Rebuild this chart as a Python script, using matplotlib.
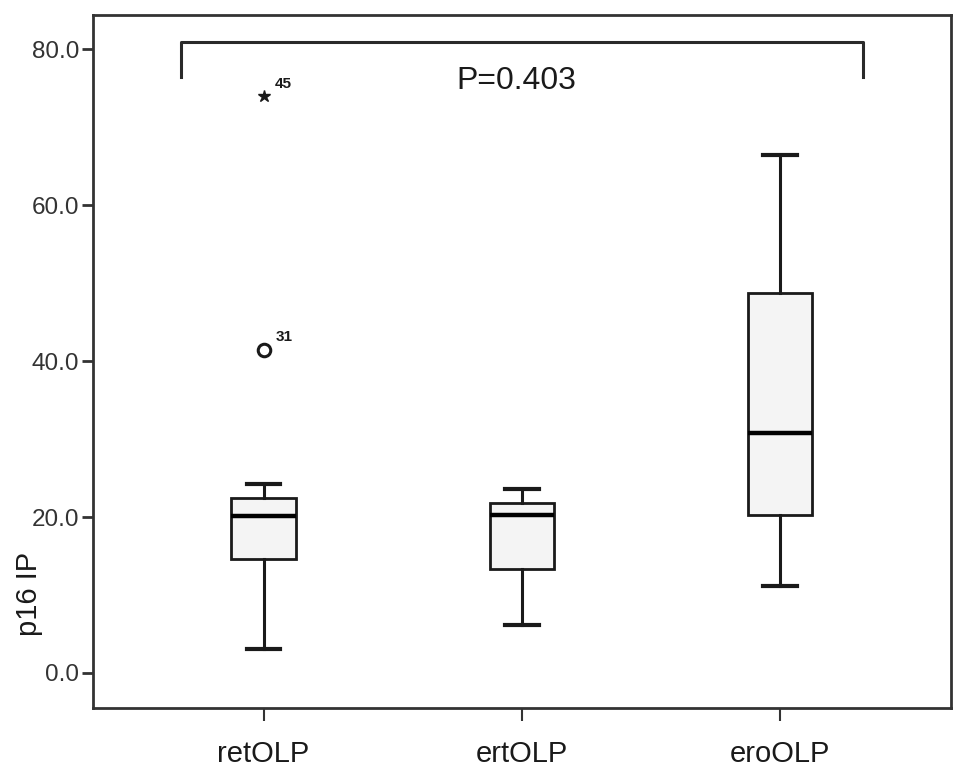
import numpy as np
import matplotlib
matplotlib.use('Agg')
import matplotlib.pyplot as plt

plt.rcParams['font.family'] = ['Liberation Sans', 'DejaVu Sans']

# ---- data ----
groups   = ['retOLP', 'ertOLP', 'eroOLP']
wh_lo    = [3.1, 6.2, 11.2]
q1       = [14.6, 13.3, 20.3]
median   = [20.1, 20.3, 30.8]
q3       = [22.4, 21.8, 48.8]
wh_hi    = [24.2, 23.6, 66.4]
out_circle = [41.4]          # mild outlier (retOLP)
out_star   = [74.0]          # extreme outlier (retOLP)
out_circle_id = ['31']
out_star_id   = ['45']
p_text = 'P=0.403'

DARK = '#1a1a1a'
FRAME = '#333333'

stats = [dict(label=g, whislo=a, q1=b, med=c, q3=d, whishi=e, fliers=[])
         for g, a, b, c, d, e in zip(groups, wh_lo, q1, median, q3, wh_hi)]

fig = plt.figure(figsize=(9.69, 7.76), dpi=100)
ax = fig.add_axes([0.096, 0.0876, 0.885, 0.893])

pos = np.arange(1, len(groups) + 1)
ax.bxp(stats, positions=pos, widths=0.25, patch_artist=True, showfliers=False,
       boxprops=dict(facecolor='#f4f4f4', edgecolor=DARK, linewidth=2.0),
       medianprops=dict(color='black', linewidth=3.2),
       whiskerprops=dict(color=DARK, linewidth=2.2),
       capprops=dict(color=DARK, linewidth=3.0), capwidths=0.13)

# outliers of retOLP
ax.plot([pos[0]] * len(out_circle), out_circle, 'o', ms=9, mfc='white', mec=DARK, mew=2.2)
ax.plot([pos[0]] * len(out_star), out_star, '*', ms=9, color=DARK)
for v, t in zip(out_circle, out_circle_id):
    ax.annotate(t, (pos[0], v), xytext=(9, 7), textcoords='offset points',
                fontsize=11, fontweight='bold', color=DARK)
for v, t in zip(out_star, out_star_id):
    ax.annotate(t, (pos[0], v), xytext=(8, 6), textcoords='offset points',
                fontsize=11, fontweight='bold', color=DARK)

# significance bracket
bx0, bx1, by0, by1 = 0.68, 3.32, 76.5, 80.9
ax.plot([bx0, bx0, bx1, bx1], [by0, by1, by1, by0], color='#2a2a2a', lw=2.2,
        solid_joinstyle='round')
ax.text(1.98, 75.9, p_text, ha='center', va='center', fontsize=23, color='#1a1a1a')

ax.set_xlim(0.34, 3.66)
ax.set_ylim(-4.5, 84.4)
ax.set_yticks([0, 20, 40, 60, 80])
ax.set_yticklabels(['%.1f' % v for v in [0, 20, 40, 60, 80]])
ax.set_xticks(pos)
ax.set_xticklabels(groups)
ax.tick_params(axis='y', labelsize=17.5, labelcolor='#333333', length=8, width=2,
               color=FRAME, pad=2)
ax.tick_params(axis='x', labelsize=21, labelcolor='#1a1a1a', length=9, width=1.5,
               color=FRAME, pad=14)
ax.set_ylabel('p16 IP', fontsize=21, color='#1a1a1a', labelpad=0)
ax.yaxis.set_label_coords(-0.058, 0.165)
for s in ax.spines.values():
    s.set_linewidth(2.0)
    s.set_color(FRAME)

fig.savefig('out.png', dpi=100, facecolor='white')
